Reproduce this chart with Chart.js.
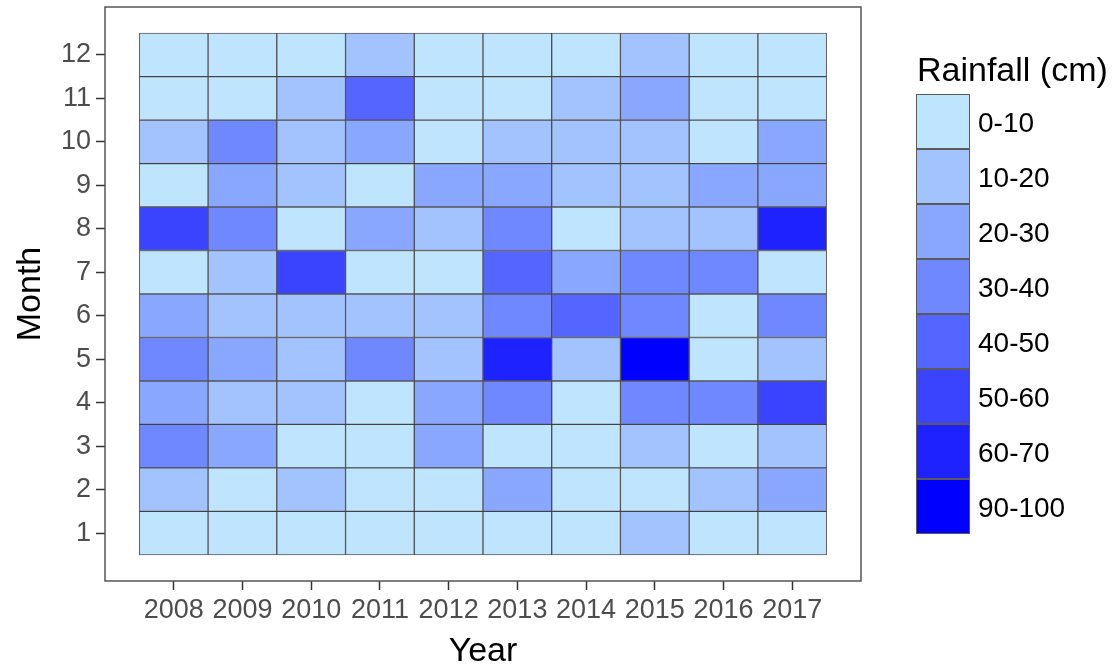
<!DOCTYPE html>
<html>
<head>
<meta charset="utf-8">
<script src="https://cdn.jsdelivr.net/npm/chart.js@4/dist/chart.umd.min.js"></script>
<style>
html,body{margin:0;padding:0;background:#fff;}
#wrap{position:relative;width:1116px;height:668px;overflow:hidden;}
#legend{position:absolute;left:916px;top:49px;font-family:'Liberation Sans',Arial,sans-serif;}
#legend .title{font-size:34px;color:#000;line-height:40px;height:45px;margin-left:1px;white-space:nowrap;}
#legend .item{position:relative;width:195px;height:55px;}
#legend .key{position:absolute;left:0;top:0;width:54px;height:55px;box-sizing:border-box;border:1px solid #5a5a5a;}
#legend .lab{position:absolute;left:62px;top:1px;line-height:55px;font-size:28px;color:#000;white-space:nowrap;}
</style>
</head>
<body>
<div id="wrap">
  <canvas id="c" width="1116" height="668"></canvas>
  <div id="legend"></div>
</div>
<script>
// ---- data ----
const years = [2008, 2009, 2010, 2011, 2012, 2013, 2014, 2015, 2016, 2017];
const months = [1, 2, 3, 4, 5, 6, 7, 8, 9, 10, 11, 12];
const bins = ['0-10', '10-20', '20-30', '30-40', '40-50', '50-60', '60-70', '90-100'];
const binColors = ['#BEE5FD', '#A3C3FF', '#8AA7FF', '#6F87FF', '#5565FF', '#3A44FF', '#1E22FF', '#0000FF'];
// rainfall class (index into bins) for each month, by year 2008..2017
const month1  = [0, 0, 0, 0, 0, 0, 0, 1, 0, 0];
const month2  = [1, 0, 1, 0, 0, 2, 0, 0, 1, 2];
const month3  = [3, 2, 0, 0, 2, 0, 0, 1, 0, 1];
const month4  = [2, 1, 1, 0, 2, 3, 0, 3, 3, 5];
const month5  = [3, 2, 1, 3, 1, 6, 1, 7, 0, 1];
const month6  = [2, 1, 1, 1, 1, 3, 4, 3, 0, 3];
const month7  = [0, 1, 5, 0, 0, 4, 2, 3, 3, 0];
const month8  = [5, 3, 0, 2, 1, 3, 0, 1, 1, 6];
const month9  = [0, 2, 1, 0, 2, 2, 1, 1, 2, 2];
const month10 = [1, 3, 1, 2, 0, 1, 1, 1, 0, 2];
const month11 = [0, 0, 1, 4, 0, 0, 1, 2, 0, 0];
const month12 = [0, 0, 0, 1, 0, 0, 0, 1, 0, 0];
const rows = [month1, month2, month3, month4, month5, month6, month7, month8, month9, month10, month11, month12];

// ---- build ----
const FONT = "'Liberation Sans', Arial, sans-serif";
const datasets = months.map((m, mi) => ({
  label: 'Month ' + m,
  data: years.map(yr => ({ x: yr, y: [m - 0.5, m + 0.5] })),
  backgroundColor: rows[mi].map(b => binColors[b]),
}));

// ggplot-like 5% expansion of the tile extents
const xLo = years[0] - 0.5, xHi = years[years.length - 1] + 0.5;
const yLo = months[0] - 0.5, yHi = months[months.length - 1] + 0.5;
const xPad = (xHi - xLo) * 0.05, yPad = (yHi - yLo) * 0.05;

const panelBorder = {
  id: 'panelBorder',
  afterDraw(chart) {
    const { ctx, chartArea: a } = chart;
    ctx.save();
    ctx.strokeStyle = '#555';
    ctx.lineWidth = 1.5;
    ctx.strokeRect(a.left, a.top, a.right - a.left, a.bottom - a.top);
    ctx.restore();
  }
};

new Chart(document.getElementById('c'), {
  type: 'bar',
  data: { datasets },
  plugins: [panelBorder],
  options: {
    responsive: false,
    animation: false,
    layout: { padding: { left: 0, top: 7, right: 255, bottom: 0 } },
    plugins: { legend: { display: false }, tooltip: { enabled: false } },
    datasets: {
      bar: {
        grouped: false,
        barPercentage: 1,
        categoryPercentage: 1,
        borderWidth: 1,
        borderColor: 'rgba(35,35,35,0.75)',
        borderSkipped: false
      }
    },
    scales: {
      x: {
        type: 'linear',
        offset: false,
        min: xLo - xPad,
        max: xHi + xPad,
        afterBuildTicks: ax => { ax.ticks = years.map(v => ({ value: v })); },
        afterFit: s => { s.height = 87; s.paddingLeft = 0; s.paddingRight = 0; },
        ticks: {
          callback: v => String(v),
          autoSkip: false, maxRotation: 0, minRotation: 0,
          font: { family: FONT, size: 27 }, color: '#4d4d4d', padding: 4
        },
        grid: { offset: false, drawOnChartArea: false, drawTicks: true, tickLength: 9, tickWidth: 1.5, tickColor: '#333' },
        border: { display: false },
        title: {
          display: true, text: 'Year', color: '#000',
          font: { family: FONT, size: 34, lineHeight: 1 },
          padding: { top: 0, bottom: -1 }
        }
      },
      y: {
        type: 'linear',
        offset: false,
        min: yLo - yPad,
        max: yHi + yPad,
        afterBuildTicks: ax => { ax.ticks = months.map(v => ({ value: v })); },
        afterFit: s => { s.width = 105; s.paddingTop = 0; s.paddingBottom = 0; },
        ticks: {
          callback: v => String(v),
          autoSkip: false,
          font: { family: FONT, size: 27 }, color: '#4d4d4d', padding: 5
        },
        grid: { offset: false, drawOnChartArea: false, drawTicks: true, tickLength: 9, tickWidth: 1.5, tickColor: '#333' },
        border: { display: false },
        title: {
          display: true, text: 'Month', color: '#000',
          font: { family: FONT, size: 34, lineHeight: 1 },
          padding: { top: 14, bottom: 0 }
        }
      }
    }
  }
});

// ---- legend ----
const lg = document.getElementById('legend');
const t = document.createElement('div');
t.className = 'title';
t.textContent = 'Rainfall (cm)';
lg.appendChild(t);
bins.forEach((b, i) => {
  const it = document.createElement('div');
  it.className = 'item';
  const k = document.createElement('div');
  k.className = 'key';
  k.style.background = binColors[i];
  const l = document.createElement('div');
  l.className = 'lab';
  l.textContent = b;
  it.appendChild(k); it.appendChild(l);
  lg.appendChild(it);
});
</script>
</body>
</html>
